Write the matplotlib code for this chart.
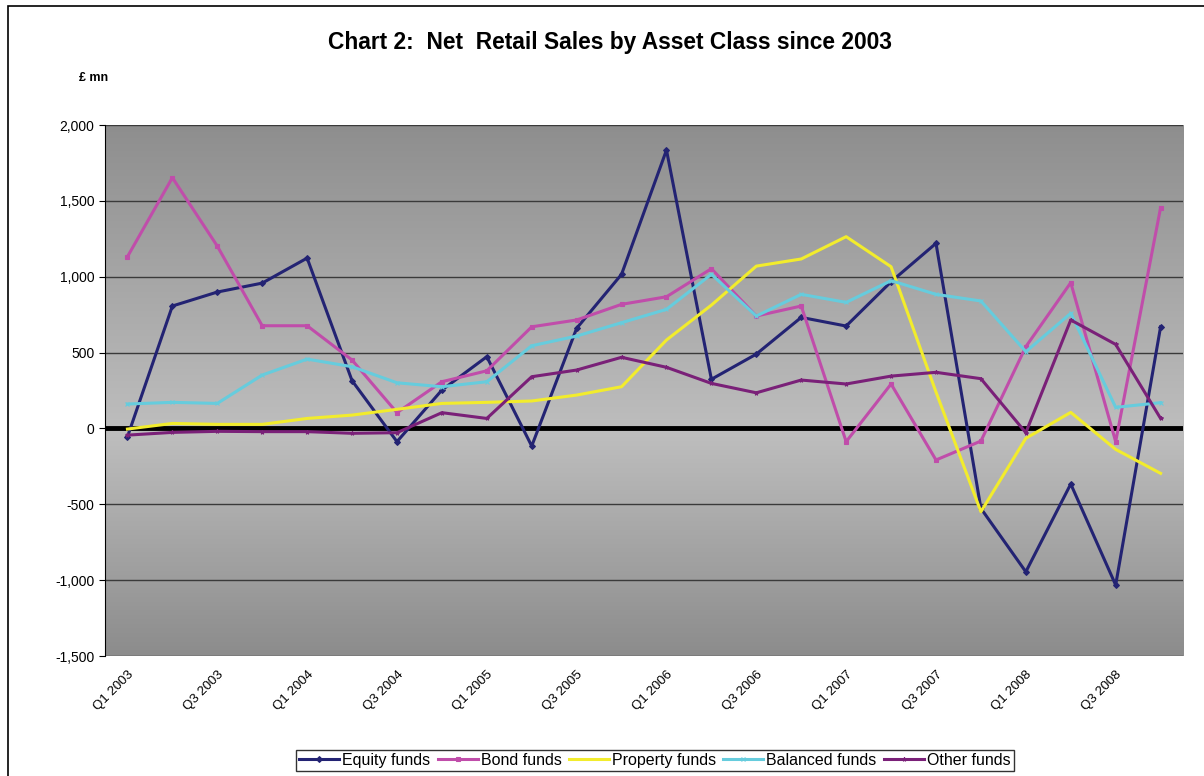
import matplotlib.pyplot as plt
import numpy as np
from matplotlib.colors import LinearSegmentedColormap
from matplotlib.patches import Rectangle
from matplotlib.ticker import FuncFormatter

plt.rcParams['font.family'] = ['Liberation Sans', 'DejaVu Sans']

# Data (£ mn, quarterly Q1 2003 .. Q4 2008)
quarters = [f'Q{q} {y}' for y in range(2003, 2009) for q in range(1, 5)]

equity = [-55, 807, 899, 958, 1123, 315, -87, 253,
          473, -116, 660, 1016, 1835, 324, 490, 732,
          675, 967, 1220, -527, -945, -366, -1032, 670]
bond = [1132, 1653, 1202, 677, 677, 451, 104, 308,
        380, 670, 715, 818, 868, 1053, 741, 807,
        -87, 293, -208, -83, 539, 961, -87, 1455]
property_ = [-4, 33, 27, 27, 66, 88, 126, 165,
             172, 181, 220, 275, 583, 813, 1070, 1117,
             1264, 1066, 240, -549, -65, 106, -138, -296]
balanced = [161, 172, 165, 352, 457, 407, 301, 275,
            308, 545, 609, 697, 785, 1016, 741, 884,
            831, 974, 884, 840, 506, 759, 139, 170]
other = [-44, -26, -19, -21, -21, -32, -28, 104,
         66, 341, 385, 469, 403, 297, 235, 319,
         293, 345, 370, 328, -28, 715, 554, 66]

series = [
    ('Equity funds', equity, '#232373', 'D'),
    ('Bond funds', bond, '#C04DAA', 's'),
    ('Property funds', property_, '#F2EC2C', None),
    ('Balanced funds', balanced, '#66CCDD', 'x'),
    ('Other funds', other, '#7A2078', '*'),
]

fig = plt.figure(figsize=(12.04, 7.76), dpi=100)
ax = fig.add_axes([0.0872, 0.1546, 0.8954, 0.6843])

# outer chart border
fig.patches.append(Rectangle((8 / 1204, -0.01), 1.2, 1 - 6 / 776 + 0.01,
                             transform=fig.transFigure, fill=False,
                             edgecolor='black', linewidth=1.2))

# gradient plot background
cmap = LinearSegmentedColormap.from_list(
    'bg', [(0, '#8E8E8E'), (0.58, '#BEBEBE'), (1, '#8C8C8C')])
grad = np.linspace(0, 1, 256).reshape(-1, 1)
ax.imshow(grad, cmap=cmap, aspect='auto', extent=(-0.5, 23.5, -1500, 2000),
          origin='upper', zorder=0)

x = np.arange(len(quarters))
for name, vals, color, marker in series:
    ax.plot(x, vals, color=color, linewidth=2.2, marker=marker,
            markersize=3, markeredgewidth=0.8, label=name, zorder=3)

ax.set_xlim(-0.5, 23.5)
ax.set_ylim(-1500, 2000)
ax.set_yticks(range(-1500, 2001, 500))
ax.yaxis.set_major_formatter(FuncFormatter(lambda v, p: f'{int(v):,}'))
ax.grid(axis='y', color='#3a3a3a', linewidth=1, zorder=1)
ax.axhline(0, color='black', linewidth=3.5, zorder=2)

ax.set_xticks(x[::2])
ax.set_xticklabels(quarters[::2], rotation=45, ha='right',
                   rotation_mode='anchor', fontsize=9.5)
ax.tick_params(axis='x', length=0, pad=9)
ax.tick_params(axis='y', labelsize=10, length=4, direction='out')
for s in ['top', 'right', 'bottom']:
    ax.spines[s].set_visible(False)
ax.spines['left'].set_color('black')

fig.text(0.507, 0.945, 'Chart 2:  Net  Retail Sales by Asset Class since 2003',
         ha='center', va='center', fontsize=16.4, fontweight='bold')
fig.text(0.066, 0.899, '£ mn', ha='left', va='center', fontsize=9,
         fontweight='bold')

leg = fig.legend(loc='center', bbox_to_anchor=(0.544, 0.02), ncol=5,
                 frameon=True, fancybox=False, handlelength=2.5,
                 handletextpad=0.2, columnspacing=0.45, borderpad=0.2,
                 prop={'size': 11.5})
leg.get_frame().set_edgecolor('black')
leg.get_frame().set_linewidth(1)

fig.savefig('out.png', dpi=100)
